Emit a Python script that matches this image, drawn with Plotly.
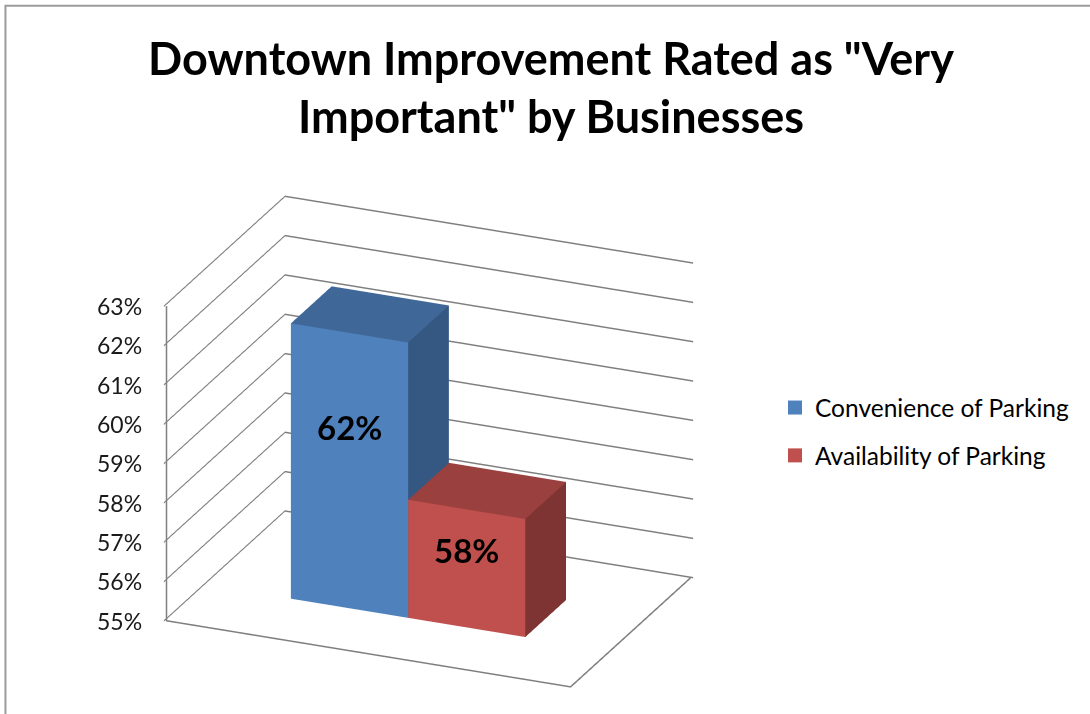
import plotly.graph_objects as go

series = ["Convenience of Parking", "Availability of Parking"]
values = [62, 58]
labels = ["62%", "58%"]
face_colors = ["#4F81BD", "#C0504D"]
top_colors = ["#3F6797", "#9A403E"]
side_colors = ["#355882", "#7D3432"]
z_ticks = [55, 56, 57, 58, 59, 60, 61, 62, 63]
z_tick_labels = ["55%", "56%", "57%", "58%", "59%", "60%", "61%", "62%", "63%"]

Z_MIN = 55
Z_MAX = 63
BAR_W = 0.29
X_START = 0.21
D0, D1 = 0.33, 0.67
GRID = "#7F7F7F"


def bar(i):
    x0 = X_START + i * BAR_W
    x1 = x0 + BAR_W
    z1 = values[i]
    # front, top, right side
    xs = [x0, x1, x1, x0, x0, x1, x1, x0]
    ys = [D0, D0, D1, D1, D0, D0, D1, D1]
    zs = [Z_MIN] * 4 + [z1] * 4
    ii = [0, 0, 4, 4, 1, 1]
    jj = [1, 5, 5, 6, 2, 6]
    kk = [5, 4, 6, 7, 6, 5]
    cols = [face_colors[i]] * 2 + [top_colors[i]] * 2 + [side_colors[i]] * 2
    return go.Mesh3d(
        x=xs, y=ys, z=zs, i=ii, j=jj, k=kk, facecolor=cols, flatshading=True,
        lighting=dict(ambient=1, diffuse=0, specular=0, fresnel=0),
        hoverinfo="skip", showlegend=False, showscale=False,
    )


fig = go.Figure()
for i in range(len(series)):
    fig.add_trace(bar(i))

# legend entries, square swatches
for i in range(len(series)):
    fig.add_trace(go.Scatter3d(
        x=[None], y=[None], z=[None], mode="markers", name=series[i],
        legendgroup=series[i], showlegend=True,
        marker=dict(symbol="square", size=14, color=face_colors[i]),
    ))

# open floor edges (the 55% gridlines close the other two) and the left vertical
fig.add_trace(go.Scatter3d(
    x=[0, 0, 1, 1], y=[0, 0, 0, 1], z=[Z_MAX, Z_MIN, Z_MIN, Z_MIN], mode="lines",
    line=dict(color=GRID, width=3), showlegend=False, hoverinfo="skip",
))

# data labels sit on the front faces
bar_labels = [
    dict(
        x=X_START + (i + 0.5) * BAR_W, y=D0, z=Z_MIN + 0.66 * (values[i] - Z_MIN),
        text=labels[i], showarrow=False,
        font=dict(family="Lato", size=33, color="black", weight="bold"),
    )
    for i in range(len(series))
]

# gl3d tick labels cannot be pushed away from the axis, so these are annotations
tick_labels = [
    dict(
        x=0, y=0, z=z, text=t, showarrow=False, xshift=-47,
        font=dict(family="Lato", size=23, color="#1a1a1a"),
    )
    for z, t in zip(z_ticks, z_tick_labels)
]

# ranges slightly wider than the box so the floor outline is not clipped
axis_off = dict(
    showgrid=False, showticklabels=False, zeroline=False, showline=False,
    showbackground=False, title="", range=[-0.005, 1.005], showspikes=False,
)

fig.update_layout(
    width=1090, height=714,
    paper_bgcolor="white",
    margin=dict(l=0, r=0, t=0, b=0),
    font=dict(family="Lato", color="black"),
    title=dict(
        text='Downtown Improvement Rated as "Very<br>Important" by Businesses',
        x=0.5055, xanchor="center", y=0.895, yanchor="middle",
        font=dict(family="Lato", size=45, color="black", weight="bold"),
    ),
    legend=dict(
        x=0.711, y=0.3955, xanchor="left", yanchor="middle",
        font=dict(family="Lato", size=24.5), tracegroupgap=13,
    ),
    scene=dict(
        domain=dict(x=[0.0, 0.786], y=[0.0, 0.762]),
        aspectmode="manual",
        aspectratio=dict(x=1.63, y=1.14, z=1.26),
        xaxis=axis_off,
        yaxis=axis_off,
        zaxis=dict(
            range=[54.98, 63.02], tickvals=z_ticks,
            showgrid=True, gridcolor=GRID, gridwidth=3,
            showline=False,
            zeroline=False, showbackground=False, title="",
            showticklabels=False, ticks="", showspikes=False,
        ),
        annotations=bar_labels + tick_labels,
        camera=dict(
            eye=dict(x=0.519, y=-1.223, z=0.555),
            center=dict(x=0, y=0, z=0),
            up=dict(x=0, y=0, z=1),
            projection=dict(type="orthographic"),
        ),
    ),
    shapes=[dict(
        type="path", xref="paper", yref="paper",
        path="M 0.005 0 L 0.005 0.992 L 1 0.992",
        line=dict(color="#9C9C9C", width=2),
    )],
)

fig.write_html(
    "out.html",
    config={"displayModeBar": False},
    post_script="document.body.style.margin = '0';",
)
